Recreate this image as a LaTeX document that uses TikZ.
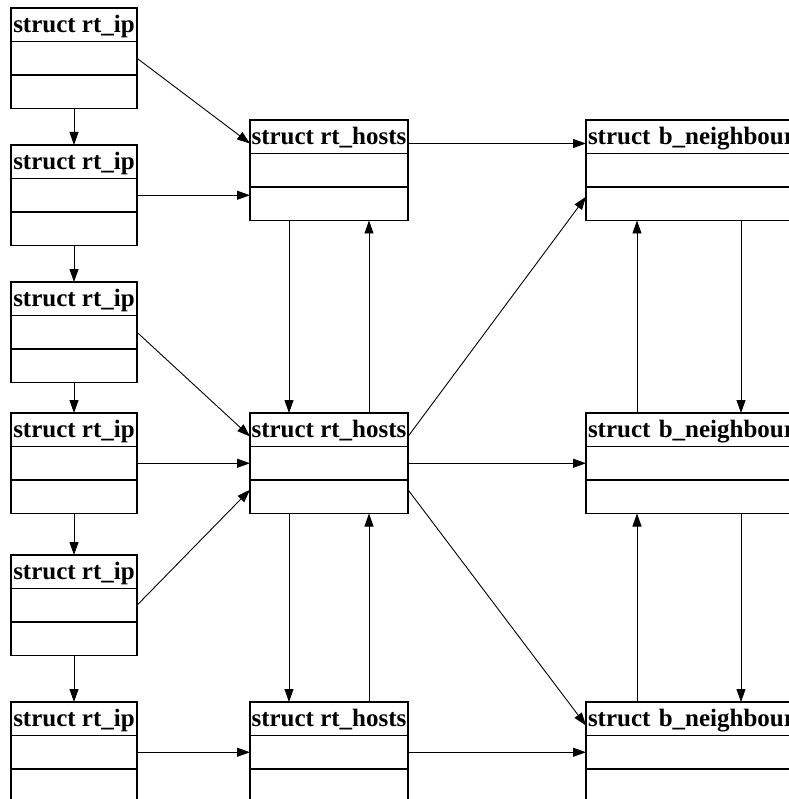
\documentclass[tikz,border=0pt]{standalone}
\usepackage{fontspec}
\setmainfont{Liberation Serif}
\usetikzlibrary{arrows.meta,positioning}

\begin{document}
\begin{tikzpicture}[x=1pt,y=-1pt,
  hdr/.style={rectangle,draw,line width=1.1pt,inner sep=0pt,outer sep=0pt,
              minimum height=33.5pt,anchor=north west,
              font=\fontsize{25}{30}\selectfont\bfseries,
              text height=19pt,text depth=3pt},
  fld/.style={rectangle,draw,line width=1.1pt,inner sep=0pt,outer sep=0pt,
              minimum height=33.5pt},
  arr/.style={-{Triangle[length=13pt,width=9pt]},line width=0.9pt},
]
  \useasboundingbox (0,0) rectangle (788,799);

  % rt_ip column
  \foreach \i/\y in {1/8,2/145,3/282,4/413,5/555,6/702} {
    \node[hdr,minimum width=126pt] (ip\i) at (11,\y) {struct rt\_ip};
    \node[fld,minimum width=126pt,below=0pt of ip\i] (ip\i-a) {};
    \node[fld,minimum width=126pt,below=0pt of ip\i-a] (ip\i-b) {};
  }
  \foreach \i/\j in {1/2,2/3,3/4,4/5,5/6}
    \draw[arr] (ip\i-b) -- (ip\j);

  % rt_hosts column
  \foreach \i/\y in {1/120,2/413,3/702} {
    \node[hdr,minimum width=158pt] (hosts\i) at (250,\y) {struct rt\_hosts};
    \node[fld,minimum width=158pt,below=0pt of hosts\i] (hosts\i-a) {};
    \node[fld,minimum width=158pt,below=0pt of hosts\i-a] (hosts\i-b) {};
  }

  % b_neighbour column
  \foreach \i/\y in {1/120,2/413,3/702} {
    \node[hdr,minimum width=212pt,align=left,text width=208pt] (nbr\i) at (586,\y) {struct b\_neighbour};
    \node[fld,minimum width=212pt,below=0pt of nbr\i] (nbr\i-a) {};
    \node[fld,minimum width=212pt,below=0pt of nbr\i-a] (nbr\i-b) {};
  }

  % rt_ip -> rt_hosts
  \draw[arr] (ip1-a.east) -- ([yshift=10pt]hosts1.south west);
  \draw[arr] (ip2-a.east) -- (ip2-a.east -| hosts1-b.west);
  \draw[arr] (ip3-a.east) -- ([yshift=10pt]hosts2.south west);
  \draw[arr] (ip4-a.east) -- (ip4-a.east -| hosts2-a.west);
  \draw[arr] (ip5-a.east) -- ([yshift=7pt]hosts2-b.west);
  \draw[arr] (ip6-a.east) -- (ip6-a.east -| hosts3-a.west);

  % rt_hosts links
  \foreach \i/\j in {1/2,2/3} {
    \draw[arr] ([xshift=39pt]hosts\i-b.south west) -- ([xshift=39pt]hosts\j.north west);
    \draw[arr] ([xshift=119pt]hosts\j.north west) -- ([xshift=119pt]hosts\i-b.south west);
  }

  % rt_hosts -> b_neighbour
  \draw[arr] ([yshift=10pt]hosts1.south east) -- ([yshift=10pt]nbr1.south west);
  \draw[arr] ([yshift=10pt]hosts2.south east) -- ([yshift=7pt]nbr1-b.west);
  \draw[arr] (hosts2-a.east) -- (hosts2-a.east -| nbr2-a.west);
  \draw[arr] ([yshift=7pt]hosts2-b.east) -- ([yshift=10pt]nbr3.south west);
  \draw[arr] (hosts3-a.east) -- (hosts3-a.east -| nbr3-a.west);

  % b_neighbour links
  \foreach \i/\j in {1/2,2/3} {
    \draw[arr] ([xshift=51pt]nbr\j.north west) -- ([xshift=51pt]nbr\i-b.south west);
    \draw[arr] ([xshift=155pt]nbr\i-b.south west) -- ([xshift=155pt]nbr\j.north west);
  }
\end{tikzpicture}
\end{document}
